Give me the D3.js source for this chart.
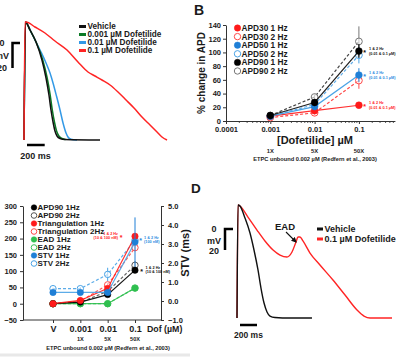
<!DOCTYPE html>
<html><head><meta charset="utf-8">
<script src="https://cdn.jsdelivr.net/npm/d3@7"></script>
<style>body{margin:0;background:#fff}svg{display:block}</style>
</head><body>
<svg id="c" width="396" height="360"></svg>
<script>
// ---------------- DATA ----------------
// Panel A: action potentials [time ms, potential mV]
const aVehicle = [[0,-77.6],[17,16.8],[68,10.4],[136,0.8],[203,-13.6],[249,-28],[282,-41.6],[305,-53.6],[328,-63.2],[350,-70.4],[373,-74.4],[407,-76.4],[463,-77.2],[859,-77.6]];
const aDof001 = [[0,-77.6],[17,16.8],[68,10.4],[136,0.8],[212,-13.6],[262,-28],[296,-41.6],[320,-53.6],[344,-63.2],[368,-70.4],[394,-74.4],[430,-76.4],[470,-77.2]];
const aDof01 = [[0,-77.6],[17,16.8],[68,10.4],[136,0.8],[192,-7.2],[249,-16],[294,-24],[328,-32],[367,-42.4],[407,-53.6],[441,-64],[475,-72],[497,-75.2],[531,-77],[599,-77.6]];
const aDof1 = [[0,-77.6],[11,16.8],[23,16.8],[124,12.8],[237,8],[350,1.6],[486,-5.6],[610,-15.2],[723,-23.2],[802,-26.4],[881,-29.6],[972,-33.6],[1062,-39.2],[1153,-45.6],[1243,-52],[1333,-59.2],[1424,-65.6],[1503,-71.2],[1559,-75.2],[1616,-77.6]];
const aLegend = ["Vehicle","0.001 µM Dofetilide","0.01 µM Dofetilide","0.1 µM Dofetilide"];

// Panel B: % change in APD vs [Dofetilide]
const bConc = [0.001, 0.01, 0.1];
const bXTicks = [0.0001, 0.001, 0.01, 0.1];
const bYTicks = [0, 20, 40, 60, 80, 100, 120, 140];
const bFold = ["1X", "5X", "50X"];
const bNames = ["APD30 1 Hz","APD30 2 Hz","APD50 1 Hz","APD50 2 Hz","APD90 1 Hz","APD90 2 Hz"];
const bAPD30_1 = [7, 15, 23],  bAPD30_1err = [2, 5, 4];
const bAPD30_2 = [5, 12, 59],  bAPD30_2err = [2, 4, 12];
const bAPD50_1 = [7, 21, 67],  bAPD50_1err = [2, 4, 10];
const bAPD50_2 = [7, 24, 96],  bAPD50_2err = [2, 4, 12];
const bAPD90_1 = [8, 27, 102], bAPD90_1err = [2, 4, 10];
const bAPD90_2 = [8, 35, 116], bAPD90_2err = [2, 4, 22];

// Panel C
const cCats = ["V", "0.001", "0.01", "0.1"];
const cFold = ["1X", "5X", "50X"];
const cLeftTicks = [-50, 0, 50, 100, 150, 200, 250, 300];
const cRightTicks = [-1, 0, 1, 2, 3, 4, 5];
const cNames = ["APD90 1Hz","APD90 2Hz","Triangulation 1Hz","Triangulation 2Hz","EAD 1Hz","EAD 2Hz","STV 1Hz","STV 2Hz"];
const cAPD90_1 = [0, 5, 28, 103],  cAPD90_1err = [0, 2, 4, 10];
const cAPD90_2 = [0, 4, 38, 118],  cAPD90_2err = [0, 2, 4, 12];
const cTri_1   = [0, 10, 47, 207], cTri_1err   = [0, 3, 6, 10];
const cTri_2   = [0, 8, 58, 172],  cTri_2err   = [0, 3, 6, 10];
const cEAD_1   = [0, 0, 0, 48],    cEAD_1err   = [0, 0, 0, 3];
const cEAD_2   = [0, 0, 0, 48],    cEAD_2err   = [0, 0, 0, 3];
const cSTV_1   = [0.45, 0.45, 0.45, 3.1], cSTV_1err = [0.05, 0.05, 0.08, 1.3];
const cSTV_2   = [0.65, 0.65, 1.4, 3.2],  cSTV_2err = [0.05, 0.08, 0.35, 0.2];

// Panel D
const dVehicle = [[0,-84.8],[12,22.9],[35,21.9],[94,10.5],[153,-3.8],[200,-20],[247,-39],[282,-56.2],[318,-70.5],[353,-79],[388,-82.9],[447,-84.3],[624,-84.8],[882,-84.8]];
const dDof1 = [[0,-84.8],[12,22.9],[35,21.9],[129,11.4],[235,-1],[329,-11.4],[424,-20],[506,-24.8],[588,-26.7],[647,-21.9],[694,-12.4],[718,-7.6],[741,-7.6],[776,-11.4],[859,-22.9],[976,-34.3],[1129,-48.6],[1271,-62.9],[1412,-77.1],[1494,-82.9],[1565,-84.8],[1824,-84.8]];
const dLegend = ["Vehicle","0.1 µM Dofetilide"];

const ETPC = "ETPC unbound 0.002 µM (Redfern et al., 2003)";

// ---------------- DRAWING ----------------
const FF = '"Liberation Sans", Arial, Helvetica, sans-serif';
const svg = d3.select("#c").attr("font-family", FF).attr("font-weight", "bold");

function text(x, y, s, size, opt = {}) {
  const t = svg.append("text").attr("x", x).attr("y", y).text(s)
    .attr("font-size", size).attr("fill", opt.fill || "#1a1a1a")
    .attr("text-anchor", opt.anchor || "start")
    .attr("dominant-baseline", opt.base || "central");
  if (opt.rotate) t.attr("transform", `rotate(${opt.rotate},${x},${y})`);
  return t;
}
function styleAxis(g, fs) {
  g.attr("font-family", FF).attr("font-size", fs).attr("font-weight", "bold");
  g.selectAll("text").attr("fill", "#1a1a1a");
  g.selectAll("path,line").attr("stroke", "#333");
}

// ===== Panel A =====
const xA = d3.scaleLinear().domain([0, 200]).range([24, 41.7]);
const yA = d3.scaleLinear().domain([0, -20]).range([43, 68]);
const lineA = d3.line().x(d => xA(d[0])).y(d => yA(d[1])).curve(d3.curveMonotoneX);
const aTraces = [
  {d: aDof01, c: "#3399e6"},
  {d: aDof001, c: "#0b7a26"},
  {d: aVehicle, c: "#111"},
  {d: aDof1, c: "#ff2424"}
];
aTraces.forEach(t => svg.append("path").attr("d", lineA(t.d)).attr("fill", "none")
  .attr("stroke", t.c).attr("stroke-width", 1.5));
// scale bars
svg.append("path").attr("d", `M20,${yA(0)}H12.5V${yA(-20)}`)
  .attr("fill", "none").attr("stroke", "#000").attr("stroke-width", 2.5);
text(2, yA(0), "0", 9, {anchor: "middle"});
text(2, (yA(0)+yA(-20))/2, "mV", 9, {anchor: "middle"});
text(2, yA(-20), "20", 9, {anchor: "middle"});
svg.append("line").attr("x1", 27).attr("x2", 27 + xA(200) - xA(0)).attr("y1", 145).attr("y2", 145)
  .attr("stroke", "#000").attr("stroke-width", 2.5);
text(35.5, 155.5, "200 ms", 9, {anchor: "middle"});
const aLegCols = ["#111", "#0b7a26", "#3399e6", "#ff2424"];
aLegend.forEach((s, i) => {
  const y = 26.5 + i * 8;
  svg.append("line").attr("x1", 79).attr("x2", 86).attr("y1", y).attr("y2", y)
    .attr("stroke", aLegCols[i]).attr("stroke-width", 3);
  text(87.5, y, s, 8.2);
});

// ===== Panel B =====
text(194, 10, "B", 14);
const xB = d3.scaleLog().domain([1e-4, 0.65]).range([226, 226 + 44.3 * Math.log10(0.65 / 1e-4)]);
const yB = d3.scaleLinear().domain([0, 140]).range([121, 25]);
const gBy = svg.append("g").attr("transform", "translate(226,0)")
  .call(d3.axisLeft(yB).tickValues(bYTicks).tickSize(3).tickPadding(2).tickSizeOuter(0));
styleAxis(gBy, 7.5);
const gBx = svg.append("g").attr("transform", "translate(0,121)")
  .call(d3.axisBottom(xB).tickValues(bXTicks).tickFormat(d => String(d)).tickSize(3).tickPadding(3).tickSizeOuter(0));
styleAxis(gBx, 7.5);
// minor log ticks
const minor = [];
bXTicks.forEach(dec => { for (let k = 2; k <= 9; k++) if (dec * k <= 0.65) minor.push(dec * k); });
svg.append("g").selectAll("line").data(minor).join("line")
  .attr("x1", d => xB(d)).attr("x2", d => xB(d)).attr("y1", 121).attr("y2", 123)
  .attr("stroke", "#333").attr("stroke-width", 0.8);
text(201, 73, "% change in APD", 10, {anchor: "middle", rotate: -90});
text(315, 140, "[Dofetilide] µM", 11, {anchor: "middle"});
bFold.forEach((s, i) => text(xB(bConc[i]), 150.5, s, 5.8, {anchor: "middle"}));
text(315, 159, ETPC, 5.7, {anchor: "middle"});

const bSeries = [
  {v: bAPD30_2, e: bAPD30_2err, line: "#ff4a4a", mk: "#ff4a4a", open: true},
  {v: bAPD50_2, e: bAPD50_2err, line: "#62aeea", mk: "#4aa3e6", open: true},
  {v: bAPD90_2, e: bAPD90_2err, line: "#444", mk: "#777", open: true},
  {v: bAPD30_1, e: bAPD30_1err, line: "#ff3030", mk: "#ff1a1a", open: false},
  {v: bAPD50_1, e: bAPD50_1err, line: "#4aa3e6", mk: "#1f7fd6", open: false},
  {v: bAPD90_1, e: bAPD90_1err, line: "#222", mk: "#000", open: false}
];
const gB = svg.append("g");
bSeries.forEach(s => {
  const pts = bConc.map((c, i) => [xB(c), yB(s.v[i]), s.e[i]]);
  gB.append("path").attr("d", d3.line()(pts.map(p => [p[0], p[1]]))).attr("fill", "none")
    .attr("stroke", s.line).attr("stroke-width", 1.2).attr("stroke-dasharray", s.open ? "3,2" : null);
  pts.forEach((p, i) => gB.append("line").attr("x1", p[0]).attr("x2", p[0])
    .attr("y1", yB(s.v[i] - s.e[i])).attr("y2", yB(s.v[i] + s.e[i]))
    .attr("stroke", s.mk).attr("stroke-width", 1));
  pts.forEach(p => gB.append("circle").attr("cx", p[0]).attr("cy", p[1]).attr("r", 3.4)
    .attr("fill", s.open ? "#fff" : s.mk).attr("fill-opacity", s.open ? 0.6 : 1)
    .attr("stroke", s.mk).attr("stroke-width", s.open ? 1 : 0.5));
});
// significance annotations
[[bAPD90_1[2], "#111"], [bAPD50_1[2], "#2a8ce0"], [bAPD30_1[2], "#ff2020"]].forEach(([v, c]) => {
  const y = yB(v);
  text(364.5, y + 1, "*", 7, {anchor: "middle", fill: c});
  text(369, y - 2, "1 & 2 Hz", 3.8, {fill: c});
  text(369, y + 2.5, "(0.01 & 0.1 µM)", 3.8, {fill: c});
});
// legend B
const bLegStyle = [["#ff1a1a", false], ["#ff4a4a", true], ["#1f7fd6", false], ["#4aa3e6", true], ["#000", false], ["#777", true]];
bNames.forEach((s, i) => {
  const y = 28 + i * 8.6;
  const [c, open] = bLegStyle[i];
  svg.append("circle").attr("cx", 237.5).attr("cy", y).attr("r", 3.2)
    .attr("fill", open ? "#fff" : c).attr("stroke", c).attr("stroke-width", open ? 1 : 0.5);
  text(241.5, y, s, 8.3);
});

// ===== Panel C =====
const xC = d3.scalePoint().domain(cCats).range([53, 135]);
const yCL = d3.scaleLinear().domain([-50, 300]).range([320, 206]);
const yCR = d3.scaleLinear().domain([-1, 5]).range([320, 206]);
const gCl = svg.append("g").attr("transform", "translate(23,0)")
  .call(d3.axisLeft(yCL).tickValues(cLeftTicks).tickSize(3).tickPadding(3).tickSizeOuter(0));
styleAxis(gCl, 7.5);
const gCr = svg.append("g").attr("transform", "translate(161,0)")
  .call(d3.axisRight(yCR).tickValues(cRightTicks).tickSize(3).tickPadding(4).tickSizeOuter(0));
styleAxis(gCr, 7.5);
svg.append("line").attr("x1", 23).attr("x2", 161).attr("y1", 320).attr("y2", 320).attr("stroke", "#333");
const gCx = svg.append("g").attr("transform", "translate(0,320)")
  .call(d3.axisBottom(xC).tickSize(3).tickPadding(3));
gCx.select(".domain").remove();
styleAxis(gCx, 9);
text(147, 329, "Dof (µM)", 8.8);
cFold.forEach((s, i) => text(xC(cCats[i + 1]), 339, s, 5.6, {anchor: "middle"}));
text(108, 347.5, ETPC, 5.7, {anchor: "middle"});
text(185, 253, "STV (ms)", 11, {anchor: "middle", rotate: -90});

const cSeries = [
  {v: cEAD_2, e: cEAD_2err, y: yCL, c: "#3cc25a", open: true},
  {v: cAPD90_2, e: cAPD90_2err, y: yCL, c: "#555", open: true},
  {v: cTri_2, e: cTri_2err, y: yCL, c: "#ff4a4a", open: true},
  {v: cSTV_2, e: cSTV_2err, y: yCR, c: "#4aa3e6", open: true},
  {v: cEAD_1, e: cEAD_1err, y: yCL, c: "#2fbf4f", open: false},
  {v: cAPD90_1, e: cAPD90_1err, y: yCL, c: "#000", open: false},
  {v: cTri_1, e: cTri_1err, y: yCL, c: "#ff1a1a", open: false},
  {v: cSTV_1, e: cSTV_1err, y: yCR, c: "#1f7fd6", open: false}
];
const gC = svg.append("g");
cSeries.forEach(s => {
  const pts = cCats.map((k, i) => [xC(k), s.y(s.v[i])]);
  gC.append("path").attr("d", d3.line()(pts)).attr("fill", "none")
    .attr("stroke", s.open ? s.c : (s.c === "#1f7fd6" ? "#4aa3e6" : s.c)).attr("stroke-width", 1.2)
    .attr("stroke-dasharray", s.open ? "3,2" : null).attr("stroke-opacity", 0.9);
  cCats.forEach((k, i) => gC.append("line").attr("x1", xC(k)).attr("x2", xC(k))
    .attr("y1", s.y(s.v[i] - s.e[i])).attr("y2", s.y(s.v[i] + s.e[i]))
    .attr("stroke", s.c).attr("stroke-width", 1));
  pts.forEach(p => gC.append("circle").attr("cx", p[0]).attr("cy", p[1]).attr("r", 3.2)
    .attr("fill", s.open ? "#fff" : s.c).attr("fill-opacity", s.open ? 0.6 : 1)
    .attr("stroke", s.c).attr("stroke-width", s.open ? 1 : 0.5));
});
// annotations C
{
  const yr = yCL(cTri_1[3]);
  text(118, yr - 2.2, "1 & 2 Hz", 3.8, {anchor: "end", fill: "#ff2020"});
  text(118, yr + 2.2, "(10 & 100 nM)", 3.8, {anchor: "end", fill: "#ff2020"});
  text(121, yr + 1, "*", 7, {anchor: "middle", fill: "#ff2020"});
  const yb = yCR(cSTV_1[3]);
  text(140.5, yb - 2, "*", 7, {anchor: "middle", fill: "#2a8ce0"});
  text(144, yb - 4, "1 & 2 Hz", 3.8, {fill: "#2a8ce0"});
  text(144, yb, "(100 nM)", 3.8, {fill: "#2a8ce0"});
  const yk = yCL(cAPD90_1[3]);
  text(141.5, yk + 1, "*", 7, {anchor: "middle", fill: "#111"});
  text(145.5, yk - 2, "1 & 2 Hz", 3.8, {fill: "#111"});
  text(145.5, yk + 2.2, "(10 & 100 nM)", 3.8, {fill: "#111"});
}
// legend C
const cLegStyle = [["#000", false], ["#555", true], ["#ff1a1a", false], ["#ff4a4a", true], ["#2fbf4f", false], ["#3cc25a", true], ["#1f7fd6", false], ["#4aa3e6", true]];
cNames.forEach((s, i) => {
  const y = 207.5 + i * 8;
  const [c, open] = cLegStyle[i];
  svg.append("circle").attr("cx", 34).attr("cy", y).attr("r", 2.8)
    .attr("fill", open ? "#fff" : c).attr("stroke", c).attr("stroke-width", open ? 1 : 0.5);
  text(37.5, y, s, 8);
});
svg.append("line").attr("x1", 0).attr("x2", 190).attr("y1", 355).attr("y2", 355)
  .attr("stroke", "#e8e8e8").attr("stroke-width", 3);

// ===== Panel D =====
text(191, 188, "D", 13.5);
const xD = d3.scaleLinear().domain([0, 200]).range([237, 254]);
const yD = d3.scaleLinear().domain([0, -20]).range([229, 250]);
const lineD = d3.line().x(d => xD(d[0])).y(d => yD(d[1])).curve(d3.curveMonotoneX);
svg.append("path").attr("d", lineD(dDof1)).attr("fill", "none").attr("stroke", "#ff2424").attr("stroke-width", 1.4);
svg.append("path").attr("d", lineD(dVehicle)).attr("fill", "none").attr("stroke", "#111").attr("stroke-width", 1.4);
svg.append("path").attr("d", `M233,${yD(0)}H225V${yD(-20)}`).attr("fill", "none").attr("stroke", "#000").attr("stroke-width", 2.5);
text(214, yD(0), "0", 9, {anchor: "middle"});
text(214, (yD(0) + yD(-20)) / 2 + 1, "mV", 9, {anchor: "middle"});
text(214, yD(-20) + 1, "20", 9, {anchor: "middle"});
svg.append("line").attr("x1", 240).attr("x2", 240 + xD(200) - xD(0)).attr("y1", 325).attr("y2", 325)
  .attr("stroke", "#000").attr("stroke-width", 2.5);
text(248.5, 334.5, "200 ms", 8.5, {anchor: "middle"});
text(285, 226.5, "EAD", 9.5, {anchor: "middle"});
svg.append("defs").append("marker").attr("id", "arr").attr("viewBox", "0 0 10 10").attr("refX", 8).attr("refY", 5)
  .attr("markerWidth", 5).attr("markerHeight", 5).attr("orient", "auto")
  .append("path").attr("d", "M0,0L10,5L0,10Z").attr("fill", "#111");
svg.append("line").attr("x1", 286).attr("y1", 232).attr("x2", 296).attr("y2", 242)
  .attr("stroke", "#111").attr("stroke-width", 1.1).attr("marker-end", "url(#arr)");
const dLegCols = ["#111", "#ff2424"];
dLegend.forEach((s, i) => {
  const y = 229 + i * 10;
  svg.append("line").attr("x1", 317).attr("x2", 323).attr("y1", y).attr("y2", y)
    .attr("stroke", dLegCols[i]).attr("stroke-width", 3);
  text(324.5, y, s, 9);
});
</script>
</body></html>
